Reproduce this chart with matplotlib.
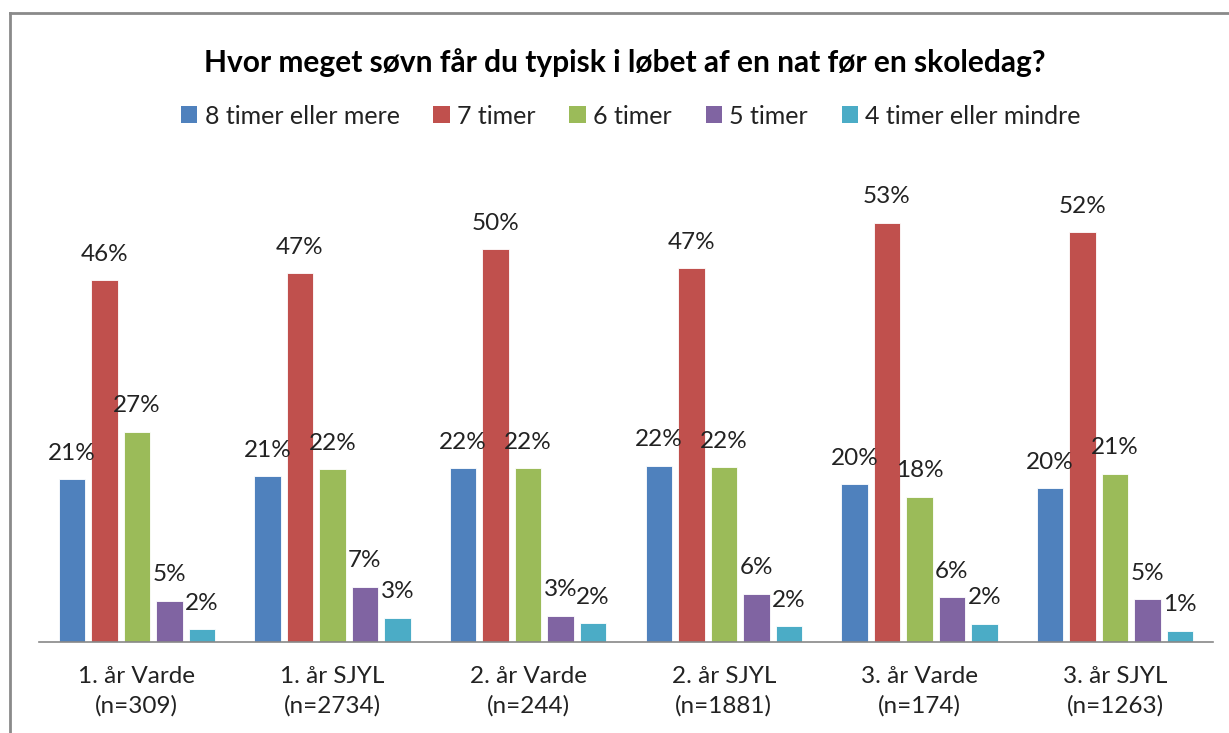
import matplotlib
matplotlib.use('Agg')
import matplotlib.pyplot as plt
from matplotlib.lines import Line2D
from matplotlib.patches import Patch
import numpy as np

plt.rcParams['font.family'] = ['Lato', 'DejaVu Sans']

groups = ['1. år Varde\n(n=309)', '1. år SJYL\n(n=2734)', '2. år Varde\n(n=244)',
          '2. år SJYL\n(n=1881)', '3. år Varde\n(n=174)', '3. år SJYL\n(n=1263)']
series = ['8 timer eller mere', '7 timer', '6 timer', '5 timer', '4 timer eller mindre']
colors = ['#4F81BD', '#C0504D', '#9BBB59', '#8064A2', '#4BACC6']

# percent per group
h8 = [20.6, 21.0, 22.0, 22.3, 20.0, 19.5]
h7 = [45.8, 46.7, 49.7, 47.3, 53.1, 51.9]
h6 = [26.6, 21.9, 22.0, 22.1, 18.4, 21.3]
h5 = [5.2, 7.0, 3.3, 6.1, 5.7, 5.4]
h4 = [1.6, 3.1, 2.4, 2.0, 2.3, 1.4]
values = [h8, h7, h6, h5, h4]

fig = plt.figure(figsize=(12.29, 7.33), dpi=100)
ax = fig.add_axes([39 / 1229, 91 / 733, 1174 / 1229, 474 / 733])

x = np.arange(len(groups))
pitch = 0.166
width = 0.135
for i, (vals, col) in enumerate(zip(values, colors)):
    pos = x + (i - 2) * pitch
    ax.bar(pos, vals, width, color=col, edgecolor='white', linewidth=0.6, label=series[i])
    for px, v in zip(pos, vals):
        ax.annotate(f'{round(v)}%', (px, v), xytext=(0, 14), textcoords='offset points',
                    ha='center', va='baseline', fontsize=17.5, color='#222222')

ax.set_xlim(-0.5, len(groups) - 0.5)
ax.set_ylim(0, 60)
ax.set_xticks(x)
ax.set_xticklabels(groups, fontsize=17.5, color='#222222', linespacing=1.5)
ax.tick_params(axis='x', length=0, pad=17)
ax.set_yticks([])
for s in ['top', 'right', 'left']:
    ax.spines[s].set_visible(False)
ax.spines['bottom'].set_color('#888888')
ax.spines['bottom'].set_linewidth(1.2)

fig.text(625 / 1229, 1 - 63 / 733, 'Hvor meget søvn får du typisk i løbet af en nat før en skoledag?',
         ha='center', va='center', fontsize=21.5, fontweight='bold', color='black')

handles = [Patch(facecolor=c, edgecolor='none') for c in colors]
fig.legend(handles, series, loc='center', bbox_to_anchor=(631 / 1229, 1 - 116 / 733), ncol=5,
           frameon=False, fontsize=18, handlelength=0.65, handleheight=0.65,
           handletextpad=0.3, columnspacing=1.35, labelcolor='#222222')

# chart frame (partly cropped)
fig.add_artist(Line2D([10 / 1229, 10 / 1229], [0, 1 - 13 / 733], color='#8a8a8a', linewidth=2,
                      transform=fig.transFigure))
fig.add_artist(Line2D([10 / 1229, 1], [1 - 13 / 733, 1 - 13 / 733], color='#8a8a8a', linewidth=2,
                      transform=fig.transFigure))

fig.savefig('out.png', dpi=100)
plt.close(fig)
